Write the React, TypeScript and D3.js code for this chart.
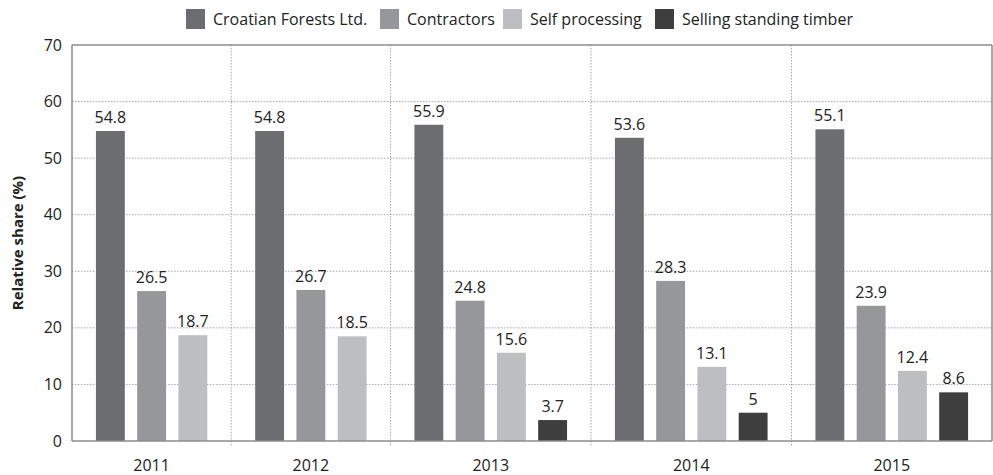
import * as d3 from "d3";

const years = ["2011", "2012", "2013", "2014", "2015"];
const seriesNames = [
  "Croatian Forests Ltd.",
  "Contractors",
  "Self processing",
  "Selling standing timber",
];
const croatianForests = [54.8, 54.8, 55.9, 53.6, 55.1];
const contractors = [26.5, 26.7, 24.8, 28.3, 23.9];
const selfProcessing = [18.7, 18.5, 15.6, 13.1, 12.4];
const sellingStanding = [0, 0, 3.7, 5, 8.6];
const yTicks = [0, 10, 20, 30, 40, 50, 60, 70];
const colors = ["#6c6d71", "#96979b", "#bdbec2", "#3e3e3e"];

const W = 993;
const H = 475;
const margin = { top: 45, right: 1, bottom: 34, left: 72 };
const font = "'Open Sans', sans-serif";

const App = () => {
  const series = [croatianForests, contractors, selfProcessing, sellingStanding];
  const rows = years.map((year, i) => ({
    year,
    items: seriesNames
      .map((name, s) => ({ name, s, value: series[s][i] }))
      .filter((d) => d.value > 0),
  }));

  // each category is as wide as the bars it holds, plus a fixed padding
  const pad = 0.86;
  const widths = rows.map((r) => r.items.length + pad);
  const starts = [0, ...Array.from(d3.cumsum(widths))];
  const total = starts[starts.length - 1];

  const x = d3
    .scaleLinear()
    .domain([0, total])
    .range([margin.left, W - margin.right]);
  const y = d3
    .scaleLinear()
    .domain([0, 70])
    .range([H - margin.bottom, margin.top]);

  const x0 = margin.left;
  const x1 = W - margin.right;
  const yb = y(0);
  const yt = y(70);

  const legendX = [186, 380, 503, 655];

  return (
    <svg
      width={W}
      height={H}
      style={{ position: "absolute", left: 0, top: 0, background: "#fff" }}
      fontFamily={font}
    >
      {/* legend */}
      {seriesNames.map((name, i) => (
        <g key={name} transform={`translate(${legendX[i]},9)`}>
          <rect width={19} height={20} fill={colors[i]} />
          <text x={27} y={16} fontSize={16} fill="#222">
            {name}
          </text>
        </g>
      ))}

      {/* horizontal grid */}
      {yTicks
        .filter((t) => t > 0 && t < 70)
        .map((t) => (
          <line
            key={t}
            x1={x0}
            x2={x1}
            y1={y(t)}
            y2={y(t)}
            stroke="#a8a8a8"
            strokeDasharray="1.5,1.5"
          />
        ))}
      {/* vertical category separators */}
      {starts.slice(1, -1).map((s, i) => (
        <line
          key={i}
          x1={x(s)}
          x2={x(s)}
          y1={yt}
          y2={yb + 5}
          stroke="#a8a8a8"
          strokeDasharray="1.5,1.5"
        />
      ))}

      {/* bars */}
      {rows.map((r, i) => {
        const band = d3
          .scaleBand()
          .domain(r.items.map((d) => d.name))
          .range([x(starts[i] + pad / 2), x(starts[i] + pad / 2 + r.items.length)])
          .paddingInner(0.3)
          .paddingOuter(0.15);
        return (
          <g key={r.year}>
            {r.items.map((d) => (
              <g key={d.name}>
                <rect
                  x={band(d.name)}
                  y={y(d.value)}
                  width={band.bandwidth()}
                  height={yb - y(d.value)}
                  fill={colors[d.s]}
                />
                <text
                  x={(band(d.name) as number) + band.bandwidth() / 2}
                  y={y(d.value) - 8}
                  textAnchor="middle"
                  fontSize={16}
                  fill="#222"
                >
                  {d.value}
                </text>
              </g>
            ))}
            <text
              x={(x(starts[i]) + x(starts[i + 1])) / 2}
              y={471}
              textAnchor="middle"
              fontSize={16}
              fill="#222"
            >
              {r.year}
            </text>
          </g>
        );
      })}

      {/* frame */}
      <line x1={x0} x2={x1} y1={yt} y2={yt} stroke="#8c8c8c" strokeWidth={1.5} />
      <line x1={x1} x2={x1} y1={yt} y2={yb} stroke="#8c8c8c" strokeWidth={1.5} />
      <line x1={x0} x2={x0} y1={yt} y2={yb} stroke="#8c8c8c" strokeWidth={1.5} />
      <line x1={x0} x2={x1} y1={yb} y2={yb} stroke="#8c8c8c" strokeWidth={1.5} />

      {/* y ticks */}
      {yTicks.map((t) => (
        <text
          key={t}
          x={62}
          y={y(t)}
          dy="0.35em"
          textAnchor="end"
          fontSize={16}
          fill="#222"
        >
          {t}
        </text>
      ))}
      <text
        transform={`translate(23,${(yt + yb) / 2}) rotate(-90)`}
        textAnchor="middle"
        fontSize={15}
        fontWeight="bold"
        fill="#222"
      >
        Relative share (%)
      </text>
    </svg>
  );
};

export default App;
